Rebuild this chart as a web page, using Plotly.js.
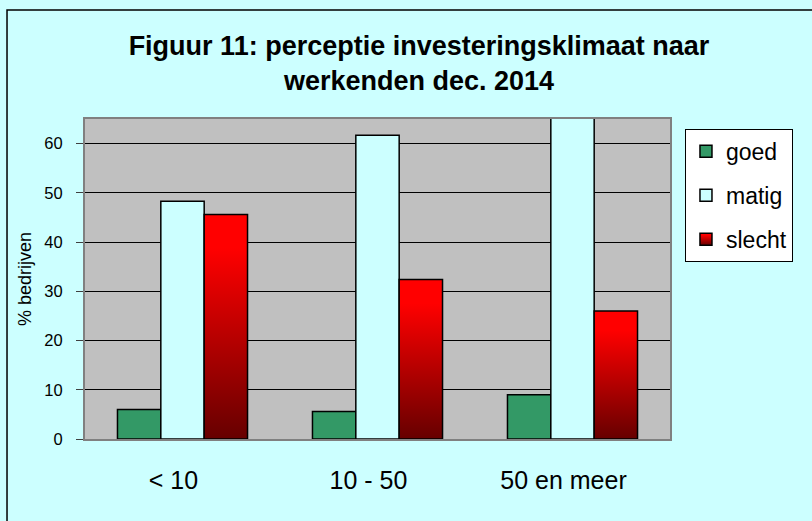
<!DOCTYPE html>
<html>
<head>
<meta charset="utf-8">
<script src="https://cdn.plot.ly/plotly-3.0.1.min.js"></script>
<style>
html,body{margin:0;padding:0;background:#CCFFFF;}
#chart{width:812px;height:521px;}
</style>
</head>
<body>
<div id="chart"></div>
<script>
const categories = ['< 10', '10 - 50', '50 en meer'];
const goed = [6.0, 5.6, 9.0];
const matig = [48.3, 61.7, 65.2];
const slecht = [45.6, 32.4, 26.0];
const yTicks = [0, 10, 20, 30, 40, 50, 60];

const FONT = 'Liberation Sans, Arial, sans-serif';
const lineStyle = {color: '#000000', width: 1.5};

const traces = [
  {type: 'bar', name: 'goed', x: categories, y: goed, legendgroup: 'a',
   marker: {color: '#339966', line: lineStyle}},
  {type: 'bar', name: 'matig', x: categories, y: matig, legendgroup: 'b',
   marker: {color: '#CCFFFF', line: lineStyle}},
  {type: 'bar', name: 'slecht', x: categories, y: slecht, legendgroup: 'c',
   marker: {color: '#CC0000', line: lineStyle}}
];

const layout = {
  width: 812, height: 521,
  paper_bgcolor: '#CCFFFF',
  plot_bgcolor: '#C0C0C0',
  margin: {l: 85, r: 142, t: 119, b: 82, pad: 0},
  font: {family: FONT, color: '#000000'},
  title: {
    text: 'Figuur 11: perceptie investeringsklimaat naar<br>werkenden dec. 2014',
    font: {family: FONT, size: 27, color: '#000000', weight: 'bold'},
    xref: 'container', x: 0.516, xanchor: 'center',
    yref: 'container', y: 0.894, yanchor: 'middle'
  },
  barmode: 'group',
  bargap: 0.333,
  bargroupgap: 0,
  showlegend: true,
  legend: {
    x: 1.0256, xanchor: 'left', y: 0.969, yanchor: 'top',
    bgcolor: '#FFFFFF', bordercolor: '#000000', borderwidth: 1,
    font: {family: FONT, size: 23, color: '#000000'},
    traceorder: 'grouped', tracegroupgap: 11
  },
  xaxis: {
    type: 'category',
    tickfont: {family: FONT, size: 25, color: '#000000'},
    ticks: '', showgrid: false, zeroline: false,
    showline: true, linecolor: '#808080', linewidth: 2, mirror: true,
    ticklabelstandoff: 18, ticklabelshift: -9
  },
  yaxis: {
    range: [0, 65],
    tickvals: yTicks,
    tickfont: {family: FONT, size: 16.5, color: '#000000'},
    ticks: 'outside', ticklen: 7, tickcolor: '#404040', tickwidth: 1,
    ticklabelstandoff: 10,
    showgrid: true, gridcolor: '#000000', gridwidth: 1,
    zeroline: false,
    showline: true, linecolor: '#808080', linewidth: 2, mirror: true,
    title: {text: '% bedrijven', font: {family: FONT, size: 18, color: '#000000'}, standoff: 8}
  },
  shapes: [
    {type: 'rect', xref: 'paper', yref: 'paper',
     x0: -0.1333, x1: 1.4, y0: -0.5, y1: 1.341,
     line: {color: '#000000', width: 1.5}, fillcolor: 'rgba(0,0,0,0)', layer: 'below'}
  ]
};

const gd = document.getElementById('chart');
Plotly.newPlot(gd, traces, layout, {staticPlot: true, displayModeBar: false}).then(function () {
  const svg = gd.querySelector('svg.main-svg');
  const NS = 'http://www.w3.org/2000/svg';
  let defs = svg.querySelector('defs');
  if (!defs) { defs = document.createElementNS(NS, 'defs'); svg.insertBefore(defs, svg.firstChild); }
  const grad = document.createElementNS(NS, 'linearGradient');
  grad.setAttribute('id', 'redgrad');
  grad.setAttribute('x1', '0'); grad.setAttribute('y1', '0');
  grad.setAttribute('x2', '0'); grad.setAttribute('y2', '1');
  [['0%', '#FF0000'], ['15%', '#FF0000'], ['100%', '#660000']].forEach(function (s) {
    const st = document.createElementNS(NS, 'stop');
    st.setAttribute('offset', s[0]); st.setAttribute('stop-color', s[1]);
    grad.appendChild(st);
  });
  defs.appendChild(grad);
  const barTraces = gd.querySelectorAll('.barlayer .trace');
  if (barTraces[2]) barTraces[2].querySelectorAll('path').forEach(function (p) { p.style.fill = 'url(#redgrad)'; });
  const legTraces = gd.querySelectorAll('.legend .traces');
  legTraces.forEach(function (t) {
    if (t.textContent.trim() === 'slecht') t.querySelectorAll('.legendpoints path').forEach(function (p) { p.style.fill = 'url(#redgrad)'; });
  });
});
</script>
</body>
</html>
